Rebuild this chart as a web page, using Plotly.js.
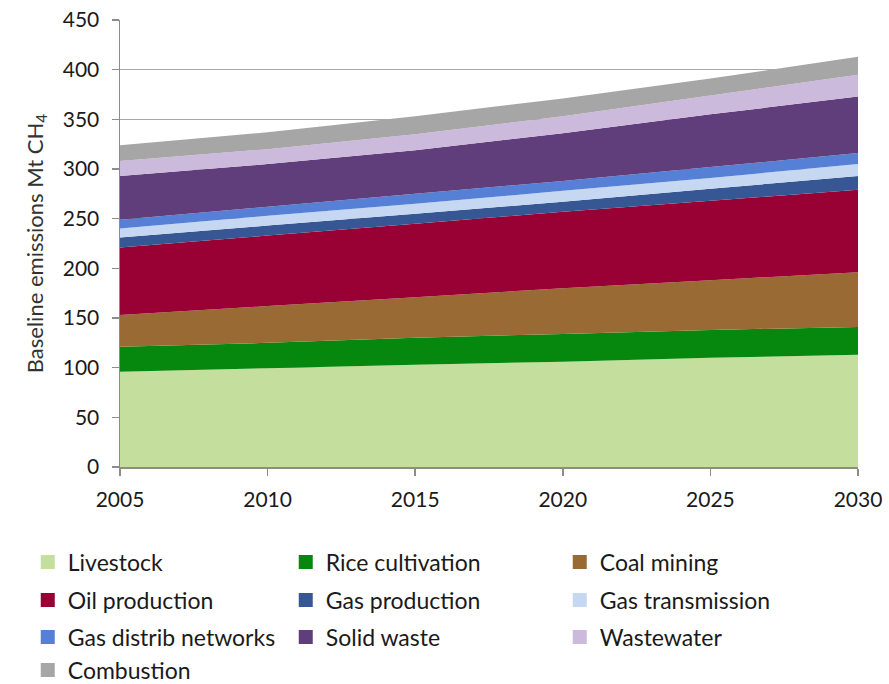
<!DOCTYPE html>
<html>
<head>
<meta charset="utf-8">
<script src="https://cdn.plot.ly/plotly-3.0.1.min.js"></script>
<style>html,body{margin:0;padding:0;background:#fff;}#chart{width:889px;height:684px;}</style>
</head>
<body>
<div id="chart"></div>
<script>
const years = [2005, 2010, 2015, 2020, 2025, 2030];
const livestock        = [96, 99.5, 103, 106, 110, 113];
const riceCultivation  = [25, 25.5, 27, 28, 28, 28];
const coalMining       = [32, 37, 41, 46, 50, 55];
const oilProduction    = [68, 71, 74, 77, 80, 83];
const gasProduction    = [10, 10, 10, 10, 12, 14];
const gasTransmission  = [9, 10, 10, 11, 11, 12];
const gasDistrib       = [9, 9, 10, 10, 11, 11];
const solidWaste       = [44, 43, 44, 48, 53, 57];
const wastewater       = [15, 15, 16, 17, 19, 22];
const combustion       = [16, 17, 18, 18, 17, 18];
const seriesNames = ['Livestock','Rice cultivation','Coal mining','Oil production','Gas production','Gas transmission','Gas distrib networks','Solid waste','Wastewater','Combustion'];
const xTicks = [2005, 2010, 2015, 2020, 2025, 2030];
const yTicks = [0, 50, 100, 150, 200, 250, 300, 350, 400, 450];

const seriesValues = [livestock, riceCultivation, coalMining, oilProduction, gasProduction, gasTransmission, gasDistrib, solidWaste, wastewater, combustion];
const colors = ['#C4DE9D','#06870E','#996A34','#990033','#375694','#C6D7F2','#5580D6','#603E7B','#CBBADB','#A6A6A6'];

const FONT = 'Lato, "Open Sans", sans-serif';
const traces = [];
seriesValues.forEach((vals, i) => {
  traces.push({
    type: 'scatter', x: years, y: vals, name: seriesNames[i],
    stackgroup: 'one', mode: 'none', fillcolor: colors[i],
    line: {width: 0}, showlegend: false, hoverinfo: 'x+y+name'
  });
});
// legend entries (square swatches), one legend per row
const legendIds = ['legend','legend','legend','legend2','legend2','legend2','legend3','legend3','legend3','legend4'];
const colWidths = [213, 229, 210];
seriesNames.forEach((n, i) => {
  traces.push({
    type: 'scatter', x: [null], y: [null], name: n, mode: 'markers',
    marker: {symbol: 'square', size: 14, color: colors[i]},
    legend: legendIds[i], legendwidth: colWidths[i % 3], hoverinfo: 'skip'
  });
});

const legendBase = {
  orientation: 'h', x: -0.125, xanchor: 'left', yanchor: 'middle', traceorder: 'normal',
  font: {family: FONT, size: 23, color: '#1a1a1a'}, bgcolor: 'rgba(0,0,0,0)',
  itemclick: false, itemdoubleclick: false
};
const plotTop = 20, plotBottom = 467;
const yPaper = px => (plotBottom - px) / (plotBottom - plotTop);

const layout = {
  width: 889, height: 684,
  margin: {l: 120, r: 31, t: 20, b: 217, autoexpand: false},
  paper_bgcolor: '#fff', plot_bgcolor: '#fff',
  font: {family: FONT, size: 21, color: '#1a1a1a'},
  showlegend: true,
  xaxis: {
    range: [2005, 2030], tickvals: xTicks, ticktext: xTicks.map(String),
    showgrid: false, zeroline: false, showline: true, linecolor: '#8c8c8c', linewidth: 1.5,
    ticks: 'outside', ticklen: 7, tickcolor: '#8c8c8c', tickwidth: 1.5,
    ticklabelstandoff: 6, tickfont: {family: FONT, size: 21, color: '#1a1a1a'}
  },
  yaxis: {
    range: [0, 450], tickvals: yTicks, ticktext: yTicks.map(String),
    showgrid: true, gridcolor: '#a8a8a8', gridwidth: 1,
    zeroline: false, showline: true, linecolor: '#8c8c8c', linewidth: 1.5,
    ticks: 'outside', ticklen: 7, tickcolor: '#8c8c8c', tickwidth: 1.5,
    ticklabelstandoff: 8, tickfont: {family: FONT, size: 21, color: '#1a1a1a'},
    title: {text: 'Baseline emissions Mt CH<sub>4</sub>', font: {family: FONT, size: 22, color: '#333'}, standoff: 13}
  },
  legend: Object.assign({}, legendBase, {y: yPaper(562)}),
  legend2: Object.assign({}, legendBase, {y: yPaper(600)}),
  legend3: Object.assign({}, legendBase, {y: yPaper(637)}),
  legend4: Object.assign({}, legendBase, {y: yPaper(670)})
};

Plotly.newPlot('chart', traces, layout, {displayModeBar: false, staticPlot: true});
</script>
</body>
</html>
